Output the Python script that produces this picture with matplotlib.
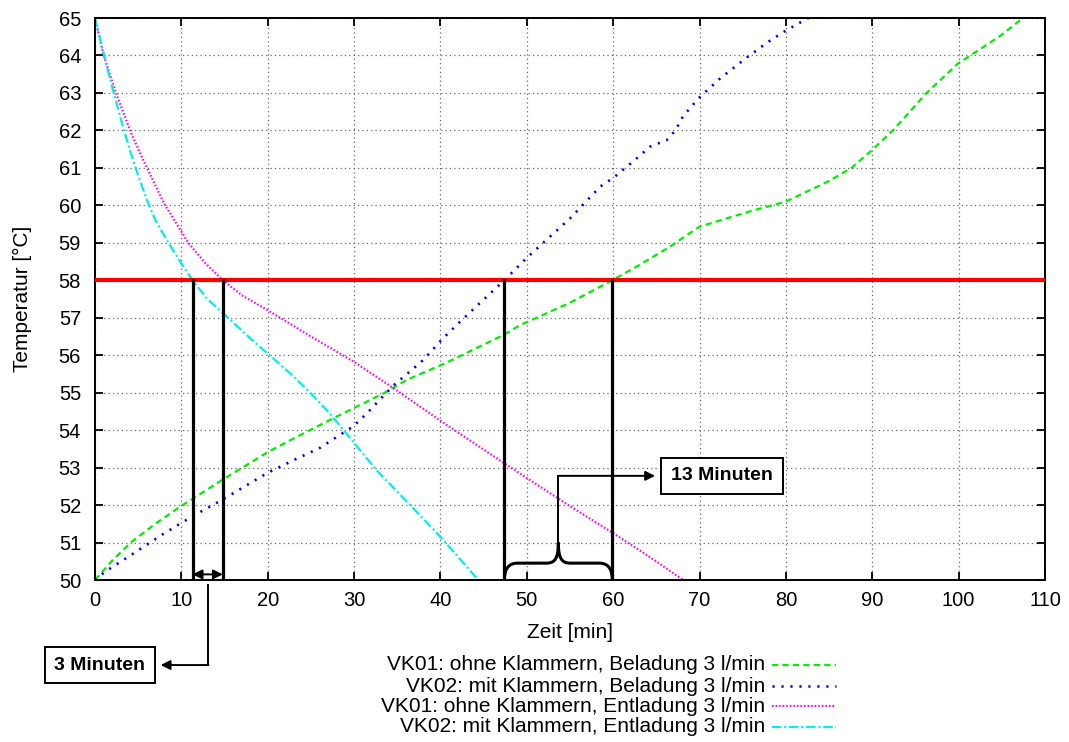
import numpy as np
import matplotlib.pyplot as plt
from matplotlib.lines import Line2D
from matplotlib.path import Path
from matplotlib.patches import PathPatch

plt.rcParams['font.family'] = ['Liberation Sans', 'DejaVu Sans']

# VK01 Beladung (gruen)
t_vk01_bel = [0, 2, 4.25, 7, 10, 11.2, 14.8, 19.9, 23.2, 27.2, 29.9, 33.4, 36.1, 40.7, 47.3, 49.2, 55, 59.9,
              63, 66.6, 68.5, 70, 72.4, 76, 80, 83.2, 85, 87.6, 90, 92.4, 96.3, 99.9, 102.5, 104.8, 107.3]
T_vk01_bel = [50, 50.52, 51.02, 51.5, 51.98, 52.15, 52.68, 53.4, 53.8, 54.27, 54.58, 54.98, 55.34, 55.8,
              56.54, 56.8, 57.4, 58.0, 58.4, 58.9, 59.2, 59.43, 59.6, 59.85, 60.1, 60.45, 60.65, 61.0,
              61.48, 62.0, 63.0, 63.78, 64.17, 64.52, 64.97]
# VK02 Beladung (blau)
t_vk02_bel = [0, 1.16, 3.86, 7.7, 11.2, 14.8, 19.9, 23.2, 26, 27.6, 29.9, 31.5, 33.0, 34.7, 38.0, 40.3,
              42.3, 44.6, 47.4, 50, 55, 58.5, 60, 62.3, 64.3, 66.2, 67.2, 68.1, 69.9, 72.4, 75.1, 77.8,
              80.1, 82.6]
T_vk02_bel = [50, 50.22, 50.62, 51.2, 51.69, 52.15, 52.85, 53.22, 53.52, 53.76, 54.1, 54.45, 54.82, 55.22,
              55.87, 56.45, 56.9, 57.4, 58.0, 58.6, 59.65, 60.5, 60.73, 61.17, 61.57, 61.74, 62.0, 62.38,
              62.86, 63.39, 63.88, 64.34, 64.68, 65.0]
# VK01 Entladung (magenta)
t_vk01_ent = [0, 1, 2.5, 4.2, 5.5, 8, 10.8, 12.8, 14.8, 17, 20, 25, 30, 33, 35, 40, 45, 47.5, 50, 55, 60,
              64, 68.1]
T_vk01_ent = [65, 64.0, 62.95, 61.92, 61.25, 60.05, 59.0, 58.45, 58.0, 57.6, 57.2, 56.5, 55.82, 55.36,
              55.05, 54.25, 53.48, 53.1, 52.72, 51.97, 51.25, 50.65, 50.0]
# VK02 Entladung (cyan)
t_vk02_ent = [0, 1, 2, 3, 4, 5, 6, 7, 8.5, 10, 11.3, 13, 15.4, 17.5, 19.5, 21.4, 23, 25, 27.2, 29.9, 32.6,
              36.5, 40, 44.2]
T_vk02_ent = [65, 64.05, 63.15, 62.3, 61.5, 60.8, 60.15, 59.6, 59.0, 58.45, 58.0, 57.5, 57.0, 56.55, 56.14,
              55.76, 55.43, 54.98, 54.44, 53.69, 52.93, 52.0, 51.15, 50.05]

T_grenz = 58
labels = ["VK01: ohne Klammern, Beladung 3 l/min",
          "VK02: mit Klammern, Beladung 3 l/min",
          "VK01: ohne Klammern, Entladung 3 l/min",
          "VK02: mit Klammern, Entladung 3 l/min"]

styles = [dict(color='#00ee00', lw=1.6, ls=(0, (2.8, 1.9))),
          dict(color='#0000ff', lw=1.9, ls=(0, (0.8, 2.6))),
          dict(color='#ff00ff', lw=1.6, ls=(0, (0.7, 0.9))),
          dict(color='#00eeee', lw=1.6, ls=(0, (4.2, 1.3, 0.9, 1.3)))]

fig = plt.figure(figsize=(10.69, 7.42), dpi=100)
ax = fig.add_axes([95 / 1069, 1 - 580 / 742, 950 / 1069, 562 / 742])

data = [(t_vk01_bel, T_vk01_bel), (t_vk02_bel, T_vk02_bel),
        (t_vk01_ent, T_vk01_ent), (t_vk02_ent, T_vk02_ent)]
for (t, T), st in zip(data, styles):
    ax.plot(t, T, **st)

ax.axhline(T_grenz, color='#ff0000', lw=3, zorder=3)

# Zeitpunkte bei 58 Grad
tc_ent2 = np.interp(T_grenz, T_vk02_ent[::-1], t_vk02_ent[::-1])
tc_ent1 = np.interp(T_grenz, T_vk01_ent[::-1], t_vk01_ent[::-1])
tc_bel2 = np.interp(T_grenz, T_vk02_bel, t_vk02_bel)
tc_bel1 = np.interp(T_grenz, T_vk01_bel, t_vk01_bel)
for tc in [tc_ent2, tc_ent1, tc_bel2, tc_bel1]:
    ax.plot([tc, tc], [50, T_grenz], color='black', lw=2.3, zorder=4)

ax.set_xlim(0, 110)
ax.set_ylim(50, 65)
ax.set_xticks(np.arange(0, 111, 10))
ax.set_yticks(np.arange(50, 66, 1))
ax.tick_params(direction='in', top=True, right=True, length=6, width=1.3, labelsize=14.5)
ax.tick_params(axis='x', pad=8)
ax.tick_params(axis='y', pad=10)
for s in ax.spines.values():
    s.set_linewidth(1.4)
ax.grid(True, color='0.4', ls=(0, (1, 2.5)), lw=0.9)
ax.set_axisbelow(True)
ax.set_xlabel("Zeit [min]", fontsize=15, labelpad=9)
ax.set_ylabel("Temperatur [°C]", fontsize=15, labelpad=19)

# 3 Minuten
ax.annotate('', xy=(tc_ent2, 50.15), xytext=(tc_ent1, 50.15),
            arrowprops=dict(arrowstyle='<|-|>', color='black', lw=1.4, shrinkA=0, shrinkB=0,
                            mutation_scale=14), annotation_clip=False, zorder=5)
xm = (tc_ent2 + tc_ent1) / 2
ax.plot([xm, xm], [49.87, 47.73], color='black', lw=1.4, clip_on=False)
ax.annotate('', xy=(7.6, 47.73), xytext=(xm + 0.08, 47.73),
            arrowprops=dict(arrowstyle='-|>', color='black', lw=1.4, shrinkA=0, shrinkB=0,
                            mutation_scale=14), annotation_clip=False)
ax.text(0.55, 47.73, "3 Minuten", fontsize=14, fontweight='bold', ha='center', va='center',
        bbox=dict(boxstyle='square,pad=0.5', fc='white', ec='black', lw=1.4), clip_on=False)

# Klammer 13 Minuten
a, b = tc_bel2, tc_bel1
m = (a + b) / 2
yb, yc = 50.45, 51.0
verts = [(a, 50.0), (a, yb), (a + 1.5, yb),
         (m - 1.4, yb),
         (m - 0.4, yb), (m, yb + 0.12), (m, yc),
         (m, yb + 0.12), (m + 0.4, yb), (m + 1.4, yb),
         (b - 1.5, yb),
         (b, yb), (b, 50.0)]
codes = [Path.MOVETO, Path.CURVE3, Path.CURVE3,
         Path.LINETO,
         Path.CURVE4, Path.CURVE4, Path.CURVE4,
         Path.CURVE4, Path.CURVE4, Path.CURVE4,
         Path.LINETO,
         Path.CURVE3, Path.CURVE3]
ax.add_patch(PathPatch(Path(verts, codes), fill=False, ec='black', lw=2.2, zorder=5, clip_on=False))
ax.plot([m, m], [yc, 52.78], color='black', lw=1.4, zorder=5)
ax.annotate('', xy=(64.85, 52.78), xytext=(m, 52.78),
            arrowprops=dict(arrowstyle='-|>', color='black', lw=1.4, shrinkA=0, shrinkB=0,
                            mutation_scale=14), zorder=5)
ax.text(72.6, 52.78, "13 Minuten", fontsize=14, fontweight='bold', ha='center', va='center',
        bbox=dict(boxstyle='square,pad=0.5', fc='white', ec='black', lw=1.4), zorder=6)

# Legende
leg_y = [1 - 665 / 742, 1 - 686 / 742, 1 - 706 / 742, 1 - 727 / 742]
for lab, st, y in zip(labels, styles, leg_y):
    fig.text(765 / 1069, y, lab, ha='right', va='center', fontsize=15)
    fig.add_artist(Line2D([772 / 1069, 836 / 1069], [y, y], transform=fig.transFigure, **st))

fig.savefig('out.png', dpi=100)
